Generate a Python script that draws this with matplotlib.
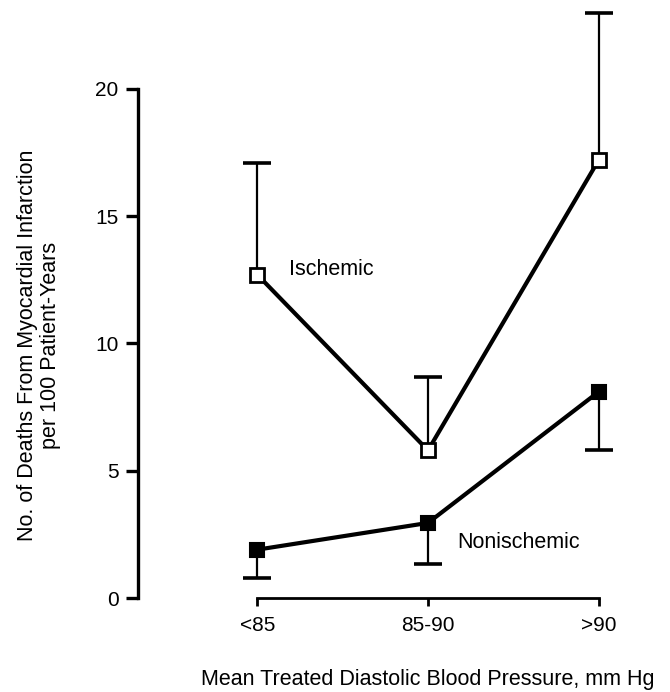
import numpy as np
import matplotlib
matplotlib.use("Agg")
import matplotlib.pyplot as plt

plt.rcParams['font.family'] = ['Liberation Sans', 'DejaVu Sans']

# categorias de pressão diastólica
categorias = ['<85', '85-90', '>90']

# mortes por IAM por 100 pacientes-ano
isquemico = [12.7, 5.8, 17.2]
isquemico_sup = [17.1, 8.7, 23.0]      # limite superior do erro
nao_isquemico = [1.9, 2.95, 8.1]
nao_isquemico_inf = [0.8, 1.35, 5.8]   # limite inferior do erro

x = np.arange(len(categorias))

fig = plt.figure(figsize=(6.7, 6.92), dpi=100)
ax = fig.add_axes([138 / 670, 94 / 692, 522 / 670, 593 / 692])

# barras de erro de um lado só (hastes + tampas)
ax.vlines(x, isquemico, isquemico_sup, color='black', lw=1.6, zorder=2)
ax.plot(x, isquemico_sup, ls='none', marker='_', ms=20, mew=2.6, color='black', zorder=2)
ax.vlines(x, nao_isquemico_inf, nao_isquemico, color='black', lw=1.6, zorder=2)
ax.plot(x, nao_isquemico_inf, ls='none', marker='_', ms=20, mew=2.6, color='black', zorder=2)

ax.plot(x, isquemico, color='black', lw=3, marker='s', ms=9.5,
        mfc='white', mec='black', mew=2, zorder=3)
ax.plot(x, nao_isquemico, color='black', lw=3, marker='s', ms=10.5,
        mfc='black', mec='black', mew=1.5, zorder=3)

ax.text(0.188, 12.9, 'Ischemic', fontsize=15.5, va='center', ha='left')
ax.text(1.173, 2.2, 'Nonischemic', fontsize=15.5, va='center', ha='left')

ax.set_xlim(-0.70, 2.36)
ax.set_ylim(0, 23.3)

ax.spines['top'].set_visible(False)
ax.spines['right'].set_visible(False)
ax.spines['left'].set_bounds(0, 20)
ax.spines['bottom'].set_bounds(0, 2)
ax.spines['left'].set_linewidth(2.4)
ax.spines['bottom'].set_linewidth(2.0)

ax.set_yticks([0, 5, 10, 15, 20])
ax.set_xticks(x)
ax.set_xticklabels(categorias)
ax.tick_params(axis='y', direction='out', length=9, width=2.4, pad=5, labelsize=15)
ax.tick_params(axis='x', direction='out', length=6, width=2.0, pad=7, labelsize=15)

fig.text(428 / 670, 12 / 692, 'Mean Treated Diastolic Blood Pressure, mm Hg',
         fontsize=15.5, ha='center', va='center')
fig.text(39 / 670, (692 - 345) / 692,
         'No. of Deaths From Myocardial Infarction\nper 100 Patient-Years',
         fontsize=15.5, ha='center', va='center', rotation=90, linespacing=1.1)

fig.savefig('out.png', dpi=100)
